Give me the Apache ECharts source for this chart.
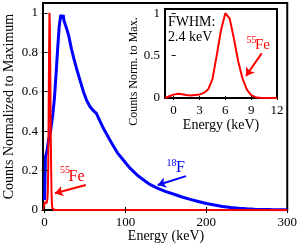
<!DOCTYPE html>
<html><head><meta charset="utf-8">
<script src="https://cdn.jsdelivr.net/npm/echarts@6/dist/echarts.min.js"></script>
<style>html,body{margin:0;padding:0;background:#fff}#c{width:300px;height:245px}</style>
</head><body><div id="c"></div>
<script>
// 55Fe spectrum (energy keV, normalized counts)
var feEnergy = [-1,-0.5,0,0.5,1,1.5,2,2.5,3,3.5,4,4.5,5,5.5,6,6.5,7,7.5,8,8.5,9,9.5,10,11,12];
var feCounts = [0,0.02,0.04,0.05,0.045,0.035,0.03,0.035,0.04,0.06,0.1,0.22,0.5,0.8,1.0,0.94,0.7,0.43,0.23,0.1,0.035,0.01,0.003,0,0];
var feTailEnergy = [20, 300];
var feTailCounts = [0, 0];
// 18F spectrum
var f18Energy = [0,1,2,3,4,5,6,7,8,10,12,14,16,18,20,21,22,23,24,26,28,30,33,36,40,44,48,52,56,60,64,68,72,76,80,85,90,95,100,105,110,115,120,125,130,135,140,150,160,170,180,190,200,210,220,230,240,250,260,280,300];
var f18Counts = [0.05,0.27,0.28,0.3,0.33,0.36,0.37,0.39,0.42,0.48,0.56,0.68,0.81,0.93,0.99,1.0,0.97,0.99,0.96,0.95,0.91,0.88,0.82,0.77,0.71,0.655,0.6,0.555,0.525,0.505,0.49,0.455,0.42,0.39,0.36,0.325,0.29,0.265,0.24,0.215,0.195,0.175,0.16,0.145,0.13,0.12,0.11,0.093,0.08,0.066,0.054,0.043,0.033,0.025,0.018,0.013,0.009,0.006,0.004,0.002,0.001];
// ticks
var mainXTicks = [0,100,200,300];
var mainYTicks = [0,0.2,0.4,0.6,0.8,1];
var insetXTicks = [0,3,6,9,12];
var insetYTicks = [0,0.5,1];

function pairs(xs, ys){ return xs.map(function(x,i){return [x, ys[i]];}); }
var FONT = '"Liberation Serif", "Times New Roman", serif';
var RED = '#ff0000', BLUE = '#0000ff';

function axis(o){
  var ticks = o.ticks;
  var a = {
    type:'value', gridIndex:o.grid, min:o.min, max:o.max, position:o.pos,
    axisLine:{show:false},
    splitLine:{show:false},
    axisTick:{show:true, inside:true, length:o.tl || 3, customValues:ticks, lineStyle:{color:'#000', width:1}},
    axisLabel:{show:!!o.labels, customValues:ticks, inside:false, color:'#000', fontFamily:FONT, fontSize:13, margin:o.margin || 6},
    z:5
  };
  return a;
}
function arrowLine(c1, c2, color){
  return {
    silent:true, symbol:['none','arrow'], symbolSize:8, animation:false,
    label:{show:false}, emphasis:{disabled:true},
    lineStyle:{color:color, width:2, type:'solid'},
    data:[[{coord:c1},{coord:c2}]]
  };
}
function txt(s, x, y, size, color, align, rot){
  var g = {type:'text', x:x, y:y, z:10,
    style:{text:s, x:0, y:0, align:align || 'left', verticalAlign:'middle', fill:color || '#000', fontFamily:FONT, fontSize:size}};
  if (rot) g.rotation = rot;
  return g;
}

var chart = echarts.init(document.getElementById('c'), null, {renderer:'canvas'});
var option = {
  animation:false,
  backgroundColor:'#fff',
  grid:[
    {left:43, top:3, width:246, height:207, show:true, borderColor:'#000', borderWidth:2, backgroundColor:'transparent'},
    {left:165, top:9, width:112, height:89, show:true, borderColor:'#000', borderWidth:2, backgroundColor:'#fff'}
  ],
  xAxis:[
    axis({grid:0, min:-2, max:300, pos:'bottom', ticks:mainXTicks, labels:true, margin:6}),
    axis({grid:0, min:-2, max:300, pos:'top', ticks:mainXTicks}),
    axis({grid:1, min:-1, max:12, pos:'bottom', ticks:insetXTicks, labels:true, margin:6, tl:2}),
    axis({grid:1, min:-1, max:12, pos:'top', ticks:insetXTicks, tl:2})
  ],
  yAxis:[
    axis({grid:0, min:0, max:1.05, pos:'left', ticks:mainYTicks, labels:true, margin:5}),
    axis({grid:0, min:0, max:1.05, pos:'right', ticks:mainYTicks}),
    axis({grid:1, min:0, max:1.05, pos:'left', ticks:insetYTicks, labels:true, margin:5, tl:2}),
    axis({grid:1, min:0, max:1.05, pos:'right', ticks:insetYTicks, tl:2})
  ],
  series:[
    {type:'line', xAxisIndex:0, yAxisIndex:0, data:pairs(f18Energy, f18Counts), showSymbol:false, symbol:'none',
     lineStyle:{color:BLUE, width:3}, z:3,
     markLine:arrowLine([174.8,0.172],[139.9,0.127],BLUE)},
    {type:'line', xAxisIndex:0, yAxisIndex:0, data:pairs(feEnergy.concat(feTailEnergy), feCounts.concat(feTailCounts)), showSymbol:false, symbol:'none',
     lineStyle:{color:RED, width:2}, z:4,
     markLine:arrowLine([50.9,0.127],[12.8,0.085],RED)},
    {type:'line', xAxisIndex:2, yAxisIndex:2, data:pairs(feEnergy, feCounts), showSymbol:false, symbol:'none',
     lineStyle:{color:RED, width:2}, z:6,
     markLine:arrowLine([10.22,0.527],[8.40,0.26],RED)}
  ],
  graphic:[
    txt('Energy (keV)', 166, 236.5, 14, '#000', 'center'),
    txt('Counts Normalized to Maximum', 9, 106.5, 14, '#000', 'center', Math.PI/2),
    txt('Energy (keV)', 221, 125, 14, '#000', 'center'),
    txt('Counts Norm. to Max.', 133.5, 71.5, 12, '#000', 'center', Math.PI/2),
    txt('FWHM:', 168, 22, 14),
    txt('2.4 keV', 168, 37.5, 14),
    txt('55', 60, 170, 10, RED),
    txt('Fe', 68.5, 176.5, 16, RED),
    txt('18', 166.5, 163.5, 10, BLUE),
    txt('F', 176, 167.5, 16, BLUE),
    txt('55', 246.5, 40, 10, RED),
    txt('Fe', 255, 45.5, 15, RED)
  ]
};
chart.setOption(option);
</script></body></html>
